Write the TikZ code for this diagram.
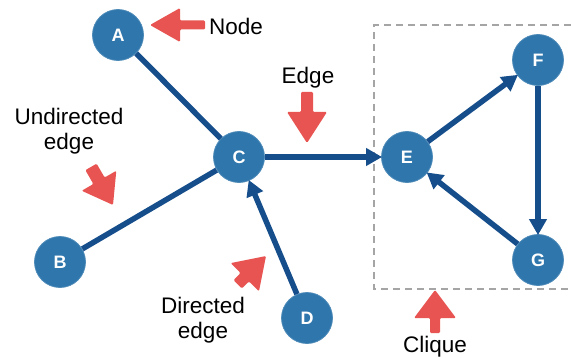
\documentclass[tikz,border=0pt]{standalone}
\usepackage{fontspec}
\setmainfont{Liberation Sans}
\usetikzlibrary{arrows.meta}
\definecolor{nodeblue}{RGB}{47,118,172}
\definecolor{edgeblue}{RGB}{22,78,140}
\definecolor{annotred}{RGB}{232,84,82}
\definecolor{boxgray}{RGB}{165,165,165}
\tikzset{
  vertex/.style={circle, fill=nodeblue, draw=nodeblue!85!white, line width=0.8pt,
    minimum size=51pt, inner sep=0pt, text=white, font=\fontsize{18}{18}\selectfont\bfseries},
  link/.style={draw=edgeblue, line width=5.5pt},
  dlink/.style={link, -{Triangle[length=16pt,width=17pt]}, shorten >=-1pt},
  label/.style={font=\fontsize{22.5}{25}\selectfont, text=black, inner sep=0pt, align=center},
  annot/.style={fill=annotred, rounded corners=1.2pt},
  pics/fatarrow/.style n args={4}{code={
    \fill[annot] (0,0) -- (-#2,#3) -- (-#2,#4) -- (-#1,#4) -- (-#1,-#4)
      -- (-#2,-#4) -- (-#2,-#3) -- cycle;}},
  clique/.style={draw=boxgray, line width=1.2pt, dash pattern=on 7pt off 5pt}
}
\begin{document}
\begin{tikzpicture}[x=1pt, y=1pt]
\useasboundingbox (0,0) rectangle (571,357);

% dashed frame around the clique
\coordinate (q1) at (571,332);
\coordinate (q2) at (374,332);
\coordinate (q3) at (374,68);
\coordinate (q4) at (571,68);
\draw[clique] (q1) -- (q2) -- (q3) -- (q4);

% vertices
\node[vertex] (A) at (118,322) {A};
\node[vertex] (C) at (239,200) {C};
\node[vertex] (B) at (60,95) {B};
\node[vertex] (D) at (307,39) {D};
\node[vertex] (E) at (407,200) {E};
\node[vertex] (F) at (538,297) {F};
\node[vertex] (G) at (538,97) {G};

% edges
\draw[link] (A) -- (C);
\draw[link] (B) -- (C);
\draw[dlink] (D) -- (C);
\draw[dlink] (C) -- (E);
\draw[dlink] (E) -- (F);
\draw[dlink] (F) -- (G);
\draw[dlink] (G) -- (E);

% annotation arrows
\pic[rotate=180] at (150,332) {fatarrow={55}{30}{17}{4.5}};
\pic[rotate=-90] at (307,214) {fatarrow={51}{31}{20}{6}};
\pic[rotate=-60] at (113,152) {fatarrow={44}{28}{20}{6.5}};
\pic[rotate=45] at (266,101) {fatarrow={40}{30}{20}{6}};
\pic[rotate=90] at (435,67) {fatarrow={43}{28}{21}{5}};

% labels
\node[label, anchor=west] (tnode) at (209,331) {Node};
\node[label] (tedge) at (308,279) {Edge};
\node[label] (tundir) at (69,226) {Undirected\\edge};
\node[label] (tdir) at (203,37) {Directed\\edge};
\node[label, anchor=base] (tclique) at (435,5) {Clique};
\end{tikzpicture}
\end{document}
